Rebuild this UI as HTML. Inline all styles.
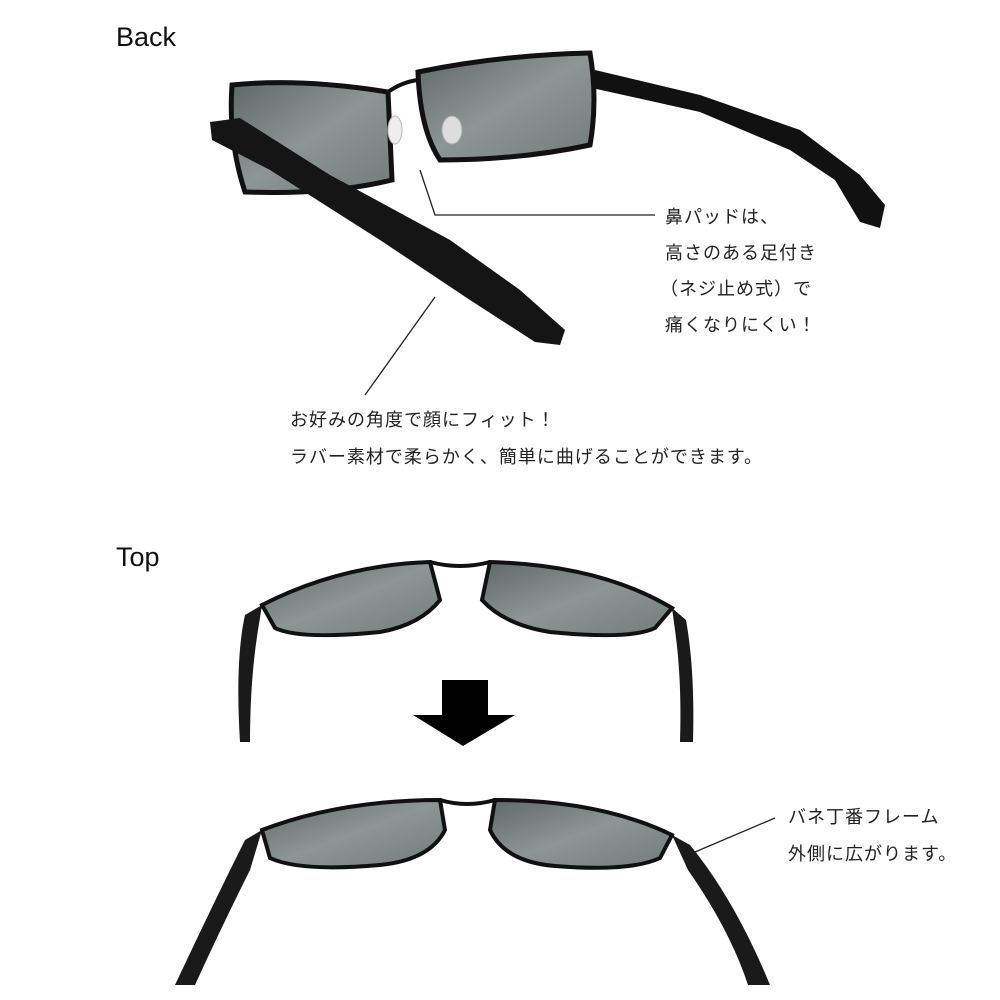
<!DOCTYPE html>
<html><head><meta charset="utf-8"><style>
html,body{margin:0;padding:0;background:#fff;}
.wrap{position:relative;width:1000px;height:1000px;overflow:hidden;font-family:"Liberation Sans","Noto Sans CJK JP",sans-serif;color:#222;}
.t{position:absolute;white-space:nowrap;}
.h{font-size:27px;color:#111;}
.j{font-size:18px;letter-spacing:1px;}
svg{position:absolute;left:0;top:0;}
</style></head><body><div class="wrap">
<svg width="1000" height="1000" viewBox="0 0 1000 1000">
<defs>
<linearGradient id="lens" x1="0" y1="0" x2="1" y2="1">
<stop offset="0" stop-color="#5f6866"/><stop offset="0.5" stop-color="#8d9694"/><stop offset="1" stop-color="#727b79"/></linearGradient>
</defs>
<!-- Back glasses -->
<path d="M595,70 L700,95 L800,130 L860,175 L885,205 L880,228 L860,222 L835,180 L790,150 L700,112 L592,88 Z" fill="#111"/>
<path d="M232,85 Q300,78 388,92 L392,180 Q330,195 245,192 Q228,140 232,85 Z" fill="url(#lens)" stroke="#111" stroke-width="5"/>
<path d="M418,72 Q500,55 590,53 Q598,100 590,145 Q520,160 440,160 Q420,130 418,72 Z" fill="url(#lens)" stroke="#111" stroke-width="5"/>
<path d="M388,92 Q402,82 418,80" stroke="#111" stroke-width="4" fill="none"/>
<path d="M210,122 L240,118 L330,175 L450,240 L520,290 L565,330 L560,345 L535,342 L470,300 L380,240 L270,170 L212,140 Z" fill="#151515"/>
<ellipse cx="395" cy="130" rx="7" ry="14" fill="#eee" stroke="#bbb"/>
<ellipse cx="452" cy="130" rx="10" ry="14" fill="#ddd" stroke="#aaa"/>
<!-- leader lines -->
<polyline points="420,170 435,215 655,215" stroke="#222" stroke-width="1.3" fill="none"/>
<line x1="435" y1="297" x2="365" y2="395" stroke="#222" stroke-width="1.3"/>
<line x1="695" y1="852" x2="775" y2="818" stroke="#222" stroke-width="1.3"/>
<!-- Top glasses 1 -->
<path d="M240,742 Q235,660 245,615 L262,605 L258,630 Q250,680 250,742 Z" fill="#1a1a1a"/>
<path d="M693,742 Q695,670 686,620 L672,608 L675,630 Q682,680 680,742 Z" fill="#1a1a1a"/>
<path d="M262,605 Q340,565 430,562 L440,600 Q420,625 380,632 Q300,640 275,628 Z" fill="url(#lens)" stroke="#111" stroke-width="4"/>
<path d="M672,608 Q600,565 490,562 L482,600 Q505,625 550,632 Q630,640 655,628 Z" fill="url(#lens)" stroke="#111" stroke-width="4"/>
<path d="M430,562 Q460,570 490,562" stroke="#111" stroke-width="4" fill="none"/>
<!-- arrow -->
<rect x="442" y="680" width="46" height="36" fill="#000"/>
<polygon points="413,715 515,715 463,746" fill="#000"/>
<!-- Top glasses 2 -->
<path d="M175,985 Q215,900 245,840 L262,830 L250,870 Q220,930 195,985 Z" fill="#1a1a1a"/>
<path d="M770,985 Q735,900 690,845 L672,835 L688,870 Q730,930 748,985 Z" fill="#1a1a1a"/>
<path d="M262,830 Q340,800 440,800 L445,830 Q430,860 380,865 Q300,872 270,858 Z" fill="url(#lens)" stroke="#111" stroke-width="4"/>
<path d="M672,835 Q600,800 495,800 L490,830 Q505,862 555,866 Q630,872 660,858 Z" fill="url(#lens)" stroke="#111" stroke-width="4"/>
<path d="M440,800 Q467,808 495,800" stroke="#111" stroke-width="4" fill="none"/>
</svg>
<div class="t h" style="left:116px;top:22px;">Back</div>
<div class="t j" style="left:665px;top:203px;">鼻パッドは、</div>
<div class="t j" style="left:665px;top:239px;">高さのある足付き</div>
<div class="t j" style="left:660px;top:275px;">（ネジ止め式）で</div>
<div class="t j" style="left:665px;top:311px;">痛くなりにくい！</div>
<div class="t j" style="left:290px;top:406px;">お好みの角度で顔にフィット！</div>
<div class="t j" style="left:290px;top:443px;">ラバー素材で柔らかく、簡単に曲げることができます。</div>
<div class="t h" style="left:116px;top:542px;">Top</div>
<div class="t j" style="left:788px;top:803px;">バネ丁番フレーム</div>
<div class="t j" style="left:788px;top:840px;">外側に広がります。</div>
</div></body></html>
